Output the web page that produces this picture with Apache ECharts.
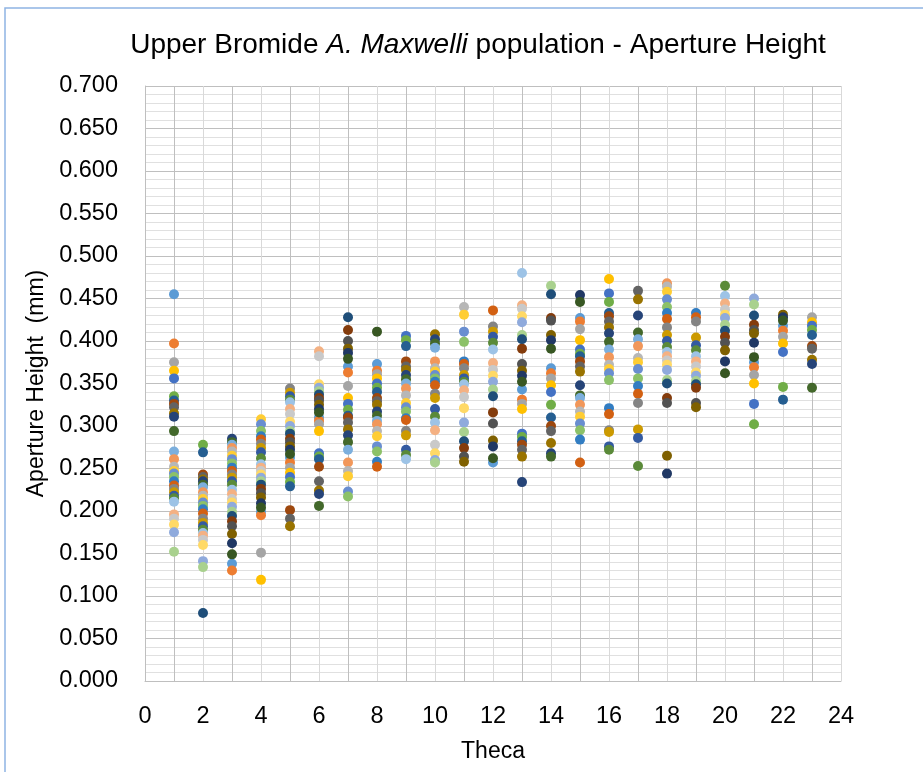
<!DOCTYPE html>
<html>
<head>
<meta charset="utf-8">
<title>Upper Bromide A. Maxwelli - Aperture Height</title>
<script src="https://cdn.jsdelivr.net/npm/echarts@6/dist/echarts.min.js"></script>
<style>
  html, body { margin: 0; padding: 0; background: #fff; }
  #chart { width: 923px; height: 772px; }
</style>
</head>
<body>
<div id="chart"></div>
<script>
// aperture height (mm) read per theca, one value per specimen
const t1 = [0.455, 0.397, 0.375, 0.365, 0.356, 0.335, 0.330, 0.326, 0.322, 0.315, 0.311, 0.294, 0.270, 0.261, 0.252, 0.247, 0.244, 0.240, 0.235, 0.230, 0.226, 0.222, 0.218, 0.215, 0.211, 0.196, 0.191, 0.184, 0.175, 0.152]
const t2 = [0.278, 0.269, 0.243, 0.240, 0.237, 0.235, 0.231, 0.228, 0.222, 0.218, 0.214, 0.210, 0.206, 0.202, 0.197, 0.191, 0.186, 0.182, 0.178, 0.174, 0.171, 0.166, 0.160, 0.141, 0.134, 0.080]
const t3 = [0.285, 0.281, 0.278, 0.274, 0.270, 0.265, 0.261, 0.256, 0.251, 0.247, 0.243, 0.239, 0.235, 0.231, 0.225, 0.220, 0.214, 0.210, 0.205, 0.199, 0.194, 0.188, 0.182, 0.173, 0.162, 0.149, 0.138, 0.130]
const t4 = [0.308, 0.302, 0.294, 0.288, 0.284, 0.279, 0.274, 0.269, 0.262, 0.255, 0.251, 0.247, 0.243, 0.239, 0.235, 0.231, 0.226, 0.221, 0.216, 0.209, 0.204, 0.199, 0.195, 0.151, 0.119]
const t5 = [0.344, 0.339, 0.335, 0.331, 0.328, 0.320, 0.314, 0.305, 0.300, 0.294, 0.291, 0.285, 0.281, 0.276, 0.272, 0.267, 0.263, 0.257, 0.251, 0.245, 0.240, 0.234, 0.229, 0.201, 0.191, 0.182]
const t6 = [0.388, 0.382, 0.349, 0.345, 0.341, 0.337, 0.333, 0.330, 0.325, 0.320, 0.316, 0.310, 0.306, 0.302, 0.294, 0.268, 0.264, 0.261, 0.252, 0.235, 0.224, 0.220, 0.206]
const t7 = [0.428, 0.413, 0.400, 0.391, 0.386, 0.379, 0.370, 0.363, 0.347, 0.333, 0.326, 0.319, 0.312, 0.310, 0.304, 0.296, 0.289, 0.281, 0.272, 0.257, 0.247, 0.241, 0.223, 0.217]
const t8 = [0.411, 0.373, 0.365, 0.361, 0.356, 0.350, 0.345, 0.340, 0.333, 0.329, 0.325, 0.317, 0.312, 0.306, 0.302, 0.294, 0.288, 0.276, 0.270, 0.258, 0.252]
const t9 = [0.406, 0.401, 0.394, 0.376, 0.370, 0.366, 0.360, 0.355, 0.350, 0.344, 0.336, 0.327, 0.322, 0.317, 0.309, 0.307, 0.294, 0.289, 0.272, 0.266, 0.261]
const t10 = [0.408, 0.402, 0.397, 0.392, 0.376, 0.368, 0.364, 0.360, 0.356, 0.352, 0.348, 0.338, 0.333, 0.320, 0.311, 0.304, 0.295, 0.278, 0.268, 0.260, 0.257]
const t11 = [0.440, 0.431, 0.411, 0.399, 0.376, 0.373, 0.368, 0.360, 0.356, 0.352, 0.349, 0.342, 0.334, 0.321, 0.304, 0.293, 0.282, 0.274, 0.264, 0.258]
const t12 = [0.436, 0.417, 0.411, 0.405, 0.398, 0.390, 0.374, 0.366, 0.359, 0.352, 0.343, 0.335, 0.316, 0.303, 0.283, 0.276, 0.262, 0.257]
const t13 = [0.480, 0.442, 0.438, 0.429, 0.422, 0.407, 0.402, 0.391, 0.373, 0.365, 0.359, 0.352, 0.343, 0.331, 0.326, 0.320, 0.291, 0.287, 0.282, 0.278, 0.272, 0.264, 0.234]
const t14 = [0.465, 0.455, 0.427, 0.424, 0.407, 0.401, 0.391, 0.368, 0.362, 0.356, 0.348, 0.340, 0.325, 0.310, 0.300, 0.294, 0.280, 0.268, 0.264]
const t15 = [0.454, 0.446, 0.427, 0.423, 0.414, 0.401, 0.390, 0.385, 0.382, 0.376, 0.370, 0.364, 0.348, 0.336, 0.333, 0.325, 0.317, 0.311, 0.303, 0.295, 0.284, 0.257]
const t16 = [0.473, 0.456, 0.446, 0.433, 0.429, 0.423, 0.416, 0.409, 0.399, 0.390, 0.381, 0.372, 0.367, 0.362, 0.354, 0.321, 0.314, 0.295, 0.293, 0.276, 0.272]
const t17 = [0.459, 0.449, 0.430, 0.410, 0.402, 0.394, 0.380, 0.375, 0.367, 0.356, 0.347, 0.338, 0.327, 0.296, 0.286, 0.253]
const t18 = [0.468, 0.464, 0.458, 0.449, 0.440, 0.433, 0.426, 0.416, 0.407, 0.400, 0.393, 0.387, 0.382, 0.377, 0.372, 0.366, 0.354, 0.350, 0.333, 0.327, 0.265, 0.244]
const t19 = [0.433, 0.428, 0.423, 0.404, 0.395, 0.389, 0.382, 0.376, 0.370, 0.363, 0.359, 0.353, 0.349, 0.345, 0.327, 0.322]
const t20 = [0.465, 0.453, 0.444, 0.437, 0.431, 0.427, 0.419, 0.412, 0.405, 0.398, 0.389, 0.376, 0.362]
const t21 = [0.450, 0.443, 0.430, 0.419, 0.413, 0.409, 0.398, 0.381, 0.375, 0.369, 0.360, 0.350, 0.326, 0.302]
const t22 = [0.431, 0.428, 0.424, 0.418, 0.412, 0.405, 0.397, 0.387, 0.346, 0.331]
const t23 = [0.428, 0.422, 0.418, 0.413, 0.407, 0.394, 0.391, 0.378, 0.373, 0.345]

const thecae = [1, 2, 3, 4, 5, 6, 7, 8, 9, 10, 11, 12, 13, 14, 15, 16, 17, 18, 19, 20, 21, 22, 23]
const columns = [t1, t2, t3, t4, t5, t6, t7, t8, t9, t10, t11, t12, t13, t14, t15, t16, t17, t18, t19, t20, t21, t22, t23]

// office colour cycle used for the specimen series
const palette = [
  '#5B9BD5', '#ED7D31', '#A5A5A5', '#FFC000', '#4472C4', '#70AD47',
  '#255E91', '#9E480E', '#636363', '#997300', '#264478', '#43682B',
  '#7CAFDD', '#F1975A', '#B7B7B7', '#FFCD33', '#698ED0', '#8CC168',
  '#327DC2', '#D26012', '#848484', '#CC9A00', '#335AA1', '#5A8A39',
  '#9DC3E6', '#F4B183', '#C9C9C9', '#FFD966', '#8FAADC', '#A9D18E',
  '#1F4E79', '#843C0C', '#525252', '#7F6000', '#203864', '#385723'
]

const yTicks = ['0.000', '0.050', '0.100', '0.150', '0.200', '0.250', '0.300', '0.350', '0.400', '0.450', '0.500', '0.550', '0.600', '0.650', '0.700']

const nSeries = palette.length
const seriesData = palette.map(() => [])
columns.forEach((col, i) => {
  col.forEach((v, k) => {
    seriesData[(k + 5 * i) % nSeries].push([thecae[i], v])
  })
})

const font = 'Liberation Sans, Arial, sans-serif'
const chart = echarts.init(document.getElementById('chart'))

const option = {
  animation: false,
  backgroundColor: '#fff',
  title: {
    text: '{n|Upper Bromide }{i|A. Maxwelli}{n| population - Aperture Height}',
    left: 473,
    top: 26,
    textAlign: 'center',
    textStyle: {
      rich: {
        n: { fontFamily: font, fontSize: 28, fontWeight: 'normal', color: '#000' },
        i: { fontFamily: font, fontSize: 28, fontWeight: 'normal', color: '#000', fontStyle: 'italic' }
      }
    }
  },
  graphic: [{
    type: 'rect',
    shape: { x: 5, y: 8, width: 960, height: 800 },
    style: { fill: 'none', stroke: '#8fb4e3', lineWidth: 1.5 },
    silent: true
  }],
  grid: { left: 145, right: 82, top: 86, bottom: 91 },
  xAxis: {
    type: 'value',
    min: 0,
    max: 24,
    interval: 2,
    name: 'Theca',
    nameLocation: 'middle',
    nameGap: 59,
    nameTextStyle: { fontFamily: font, fontSize: 23, color: '#000' },
    axisLine: { show: true, onZero: false, lineStyle: { color: '#bfbfbf' } },
    axisTick: { show: false },
    axisLabel: { fontFamily: font, fontSize: 23.5, color: '#000', margin: 24 },
    splitLine: { show: true, lineStyle: { color: '#d9d9d9', width: 1 } },
    minorTick: { show: false, splitNumber: 2 },
    minorSplitLine: { show: true, lineStyle: { color: '#bfbfbf', width: 1 } }
  },
  yAxis: {
    type: 'value',
    min: 0,
    max: 0.7,
    interval: 0.05,
    name: 'Aperture Height  (mm)',
    nameLocation: 'middle',
    nameGap: 96,
    nameTextStyle: { fontFamily: font, fontSize: 23, color: '#000' },
    axisLine: { show: true, lineStyle: { color: '#bfbfbf' } },
    axisTick: { show: false },
    axisLabel: {
      fontFamily: font, fontSize: 23.5, color: '#000', margin: 27,
      formatter: v => yTicks[Math.round(v / 0.05)]
    },
    splitLine: { show: true, lineStyle: { color: '#bfbfbf', width: 1 } },
    minorTick: { show: false, splitNumber: 5 },
    minorSplitLine: { show: true, lineStyle: { color: '#e0e0e0', width: 1 } }
  },
  series: seriesData.map((data, s) => ({
    type: 'scatter',
    name: 'S' + (s + 1),
    data: data,
    symbol: 'circle',
    symbolSize: 10,
    itemStyle: { color: palette[s], opacity: 1 }
  }))
}

chart.setOption(option)
</script>
</body>
</html>
